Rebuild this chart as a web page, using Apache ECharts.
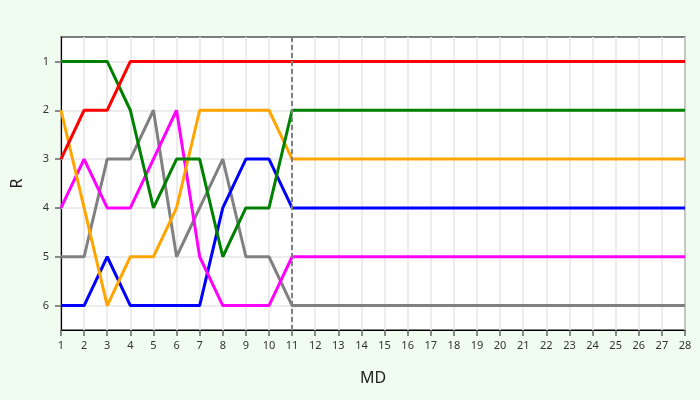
<!DOCTYPE html>
<html><head><meta charset="utf-8">
<script src="https://cdn.jsdelivr.net/npm/echarts@6/dist/echarts.min.js"></script>
<style>html,body{margin:0;padding:0;background:#effcef;}#c{width:700px;height:400px;}</style>
</head><body><div id="c"></div>
<script>
const md = [];
for (let i = 1; i <= 28; i++) md.push(i);
const redVals     = [3,2,2,1,1,1,1,1,1,1,1];
const greenVals   = [1,1,1,2,4,3,3,5,4,4,2];
const orangeVals  = [2,4,6,5,5,4,2,2,2,2,3];
const grayVals    = [5,5,3,3,2,5,4,3,5,5,6];
const magentaVals = [4,3,4,4,3,2,5,6,6,6,5];
const blueVals    = [6,6,5,6,6,6,6,4,3,3,4];
const rankTicks = [1,2,3,4,5,6];
const cutoff = 11;

function extend(vals){
  const out = [];
  for (let i = 0; i < md.length; i++) {
    out.push([md[i], i < vals.length ? vals[i] : vals[vals.length-1]]);
  }
  return out;
}
const seriesDefs = [
  {name:'gray', color:'#808080', vals:grayVals},
  {name:'blue', color:'#0000ff', vals:blueVals},
  {name:'magenta', color:'#ff00ff', vals:magentaVals},
  {name:'orange', color:'#ffa500', vals:orangeVals},
  {name:'green', color:'#008000', vals:greenVals},
  {name:'red', color:'#ff0000', vals:redVals}
];
const font = 'Noto Sans';
const series = [];
// horizontal grid lines at rank values
series.push({
  type:'line', data:[], animation:false, z:1,
  markLine:{symbol:'none', silent:true, animation:false, label:{show:false}, z:1,
    lineStyle:{color:'#e6e6e6', type:'solid', width:1.5},
    data: rankTicks.map(v => ({yAxis:v}))}
});
seriesDefs.forEach(s => series.push({
  name: s.name, type:'line', data: extend(s.vals), symbol:'none', z:3,
  lineStyle:{color:s.color, width:3}, itemStyle:{color:s.color}, animation:false
}));
series.push({
  type:'line', data:[], animation:false, z:4,
  markLine:{symbol:'none', silent:true, animation:false, label:{show:false}, z:4,
    lineStyle:{color:'#808080', type:[5,3], width:2},
    data:[{xAxis:cutoff}]}
});
const chart = echarts.init(document.getElementById('c'));
chart.setOption({
  backgroundColor:'#effcef',
  animation:false,
  grid:{left:61, right:15, top:37, bottom:70, show:true, backgroundColor:'#ffffff', borderWidth:1.2, borderColor:'#000'},
  xAxis:{type:'value', min:1, max:28, interval:1, name:'MD', nameLocation:'middle', nameGap:40,
    nameTextStyle:{fontFamily:font, fontSize:16, color:'#222'},
    axisLine:{show:true, onZero:false, lineStyle:{color:'#000', width:1.2}},
    axisTick:{show:true, length:6, lineStyle:{color:'#666', width:1.5}},
    axisLabel:{fontFamily:font, fontSize:11, color:'#333', margin:10},
    splitLine:{show:true, lineStyle:{color:'#e6e6e6', width:1.5}}},
  yAxis:{type:'value', inverse:true, min:0.5, max:6.5, name:'R', nameLocation:'middle', nameGap:36,
    nameTextStyle:{fontFamily:font, fontSize:16, color:'#222'},
    axisLine:{show:true, onZero:false, lineStyle:{color:'#000', width:1.2}},
    axisTick:{show:true, length:6, customValues:rankTicks, lineStyle:{color:'#666', width:1.5}},
    axisLabel:{fontFamily:font, fontSize:11, color:'#333', margin:12, customValues:rankTicks},
    splitLine:{show:false}},
  series: series
});
</script></body></html>
